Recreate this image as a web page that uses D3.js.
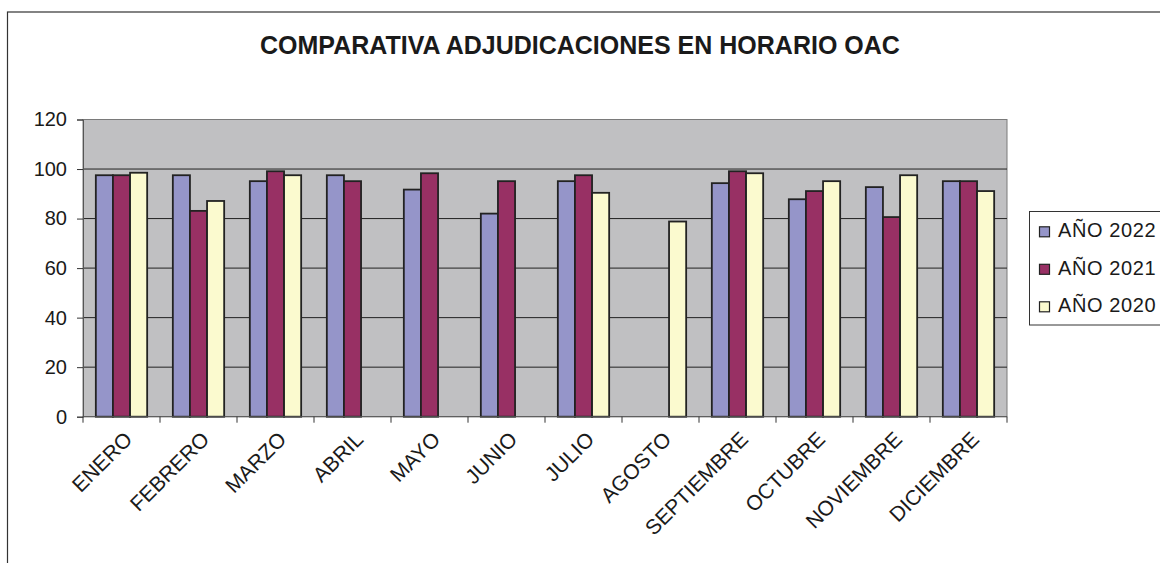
<!DOCTYPE html>
<html><head><meta charset="utf-8">
<script src="https://cdn.jsdelivr.net/npm/d3@7/dist/d3.min.js"></script>
<style>body{margin:0;background:#fff}svg{display:block}text{font-family:"Liberation Sans",Arial,sans-serif;fill:#1a1a1a}</style>
</head><body>
<svg id="c" width="1160" height="563"></svg>
<script>
const categories = ["ENERO","FEBRERO","MARZO","ABRIL","MAYO","JUNIO","JULIO","AGOSTO","SEPTIEMBRE","OCTUBRE","NOVIEMBRE","DICIEMBRE"];
const seriesNames = ["AÑO 2022","AÑO 2021","AÑO 2020"];
const values2022 = [97.5, 97.5, 95.1, 97.5, 91.7, 82.0, 95.1, null, 94.3, 87.8, 92.7, 95.1];
const values2021 = [97.5, 83.1, 99.1, 95.1, 98.3, 95.1, 97.5, null, 99.1, 91.1, 80.6, 95.1];
const values2020 = [98.5, 87.1, 97.5, null, null, null, 90.4, 78.8, 98.3, 95.1, 97.5, 91.1];
const yTicks = [0, 20, 40, 60, 80, 100, 120];
const title = "COMPARATIVA ADJUDICACIONES EN HORARIO OAC";

const colors = ["#9595c9", "#983064", "#fbfacf"];
const series = [values2022, values2021, values2020];

const svg = d3.select("#c");
svg.append("rect").attr("x",7.5).attr("y",12).attr("width",1170).attr("height",600)
  .attr("fill","#fff").attr("stroke","#333").attr("stroke-width",1.2);

const L = 83, R = 1007, T = 119.5, B = 416.7;
const x = d3.scaleBand().domain(categories).range([L, R]).paddingInner(0).paddingOuter(0);
const y = d3.scaleLinear().domain([0,120]).range([B, T]);

svg.append("text").attr("x", 260).attr("y", 54).attr("text-anchor","start")
  .attr("font-weight","bold").attr("font-size", 25).text(title);

svg.append("rect").attr("x",L).attr("y",T).attr("width",R-L).attr("height",B-T)
  .attr("fill","#c0c0c2").attr("stroke","#7a7a7a").attr("stroke-width",1);

svg.append("g").selectAll("line").data(yTicks.filter(d=>d>0 && d<120)).join("line")
  .attr("x1",L).attr("x2",R).attr("y1",d=>y(d)).attr("y2",d=>y(d))
  .attr("stroke","#222").attr("stroke-width",1);

const bw = x.bandwidth()/4.5;
const inner = d3.scaleBand().domain([0,1,2]).range([0, bw*3]);
categories.forEach((c,i)=>{
  const x0 = x(c) + (x.bandwidth()-bw*3)/2;
  series.forEach((s,k)=>{
    const v = s[i];
    if (v == null) return;
    svg.append("rect").attr("x", x0 + inner(k)).attr("y", y(v))
      .attr("width", inner.bandwidth()).attr("height", y(0)-y(v))
      .attr("fill", colors[k]).attr("stroke","#222").attr("stroke-width",1.8);
  });
});

const yAxis = d3.axisLeft(y).tickValues(yTicks).tickSize(6).tickPadding(10);
const gy = svg.append("g").attr("transform",`translate(${L},0)`).call(yAxis);
gy.select(".domain").attr("stroke","#555");
gy.selectAll(".tick line").attr("stroke","#333");
gy.selectAll(".tick text").attr("font-size",20).attr("fill","#1a1a1a").attr("font-family","Liberation Sans, Arial, sans-serif");

const gx = svg.append("g").attr("transform",`translate(0,${B})`);
gx.append("line").attr("x1",L).attr("x2",R).attr("y1",0).attr("y2",0).attr("stroke","#555");
const bounds = categories.map(c=>x(c)).concat([R]);
gx.selectAll("line.tk").data(bounds).join("line").attr("class","tk")
  .attr("x1",d=>d).attr("x2",d=>d).attr("y1",0).attr("y2",6).attr("stroke","#333");
gx.selectAll("text").data(categories).join("text")
  .attr("transform", d=>`translate(${x(d)+x.bandwidth()/2+12},${24}) rotate(-45)`)
  .attr("text-anchor","end").attr("font-size",21).text(d=>d);

const lg = svg.append("g");
lg.append("rect").attr("x",1029.5).attr("y",211.5).attr("width",150).attr("height",113.5)
  .attr("fill","#fff").attr("stroke","#333");
seriesNames.forEach((n,k)=>{
  const yy = 237.3 + k*37.5;
  lg.append("rect").attr("x",1039.5).attr("y",yy-10.5).attr("width",10).attr("height",10)
    .attr("fill",colors[k]).attr("stroke","#222").attr("stroke-width",1.2);
  lg.append("text").attr("x",1058).attr("y",yy).attr("font-size",20).attr("letter-spacing",0.6).text(n);
});
</script>
</body></html>
